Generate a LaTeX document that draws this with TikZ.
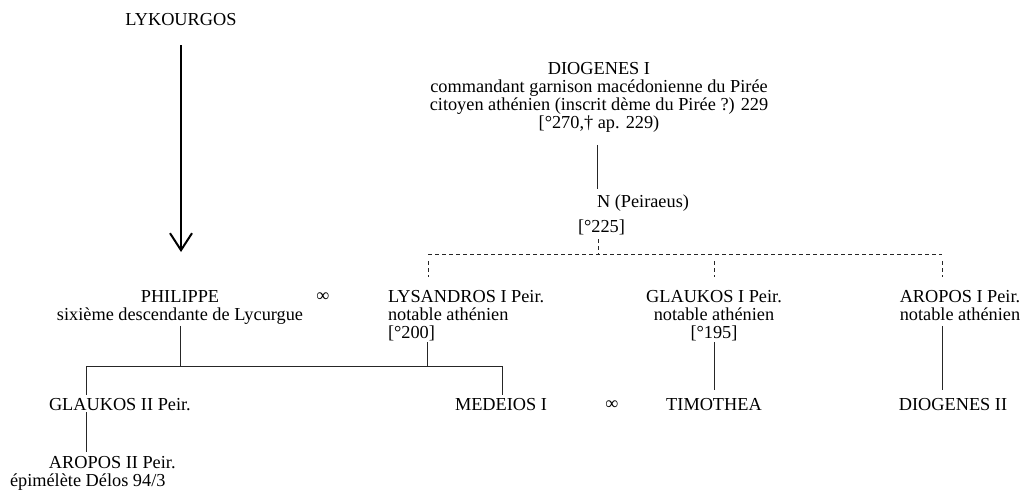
\documentclass[tikz,border=0pt]{standalone}
\usepackage{fontspec}
\setmainfont{Liberation Serif}
\usetikzlibrary{arrows.meta}
\begin{document}
\begin{tikzpicture}[x=1pt,y=-1pt,
  lbl/.style={inner sep=0pt, outer sep=0pt, font=\fontsize{18.3}{18}\selectfont},
  conn/.style={line width=0.9pt, draw=black!85},
  dconn/.style={line width=0.9pt, draw=black!85, dash pattern=on 4pt off 3pt},
  bigarrow/.style={line width=2pt, -{Straight Barb[length=17pt,width=22pt,line width=2pt]}}]
\useasboundingbox (0,0) rectangle (1023,498);
% nodes (for multi-line nodes, base = baseline of the last line)
\node[lbl, anchor=base] (lyk) at (181,25) {LYKOURGOS};
\node[lbl, anchor=base, align=center] (diog) at (599,128)
  {DIOGENES I\\commandant garnison macédonienne du Pirée\\citoyen athénien (inscrit dème du Pirée ?) 229\\{[}°270,† ap. 229)};
\node[lbl, anchor=base west, align=left] (np) at (578,232)
  {\hspace*{19pt}N (Peiraeus)\\[7pt]{[}°225]};
\node[lbl, anchor=base, align=center] (phil) at (180,320)
  {PHILIPPE\\sixième descendante de Lycurgue};
\node[lbl, anchor=base] (inf1) at (323,301) {∞};
\node[lbl, anchor=base west, align=left] (lys) at (388,338)
  {LYSANDROS I Peir.\\notable athénien\\{[}°200]};
\node[lbl, anchor=base, align=center] (gl1) at (714,338)
  {GLAUKOS I Peir.\\notable athénien\\{[}°195]};
\node[lbl, anchor=base, align=center] (ar1) at (960,320)
  {AROPOS I Peir.\\notable athénien};
\node[lbl, anchor=base west] (gl2) at (49,410) {GLAUKOS II Peir.};
\node[lbl, anchor=base west] (med) at (455,410) {MEDEIOS I};
\node[lbl, anchor=base] (inf2) at (612,409) {∞};
\node[lbl, anchor=base] (tim) at (714,410) {TIMOTHEA};
\node[lbl, anchor=base] (dio2) at (953,410) {DIOGENES II};
\node[lbl, anchor=base west, align=left] (ar2) at (10,486)
  {\hspace*{39pt}AROPOS II Peir.\\épimélète Délos 94/3};
% coordinates of buses
\coordinate (busL) at (428,254);
\coordinate (busM) at (598,254);
\coordinate (busR) at (942,254);
\coordinate (kidL) at (86,366);
\coordinate (kidR) at (502,366);
% connectors
\draw[bigarrow, shorten <=20pt, shorten >=38pt] (lyk.south) -- (lyk.south |- phil.north);
\draw[conn, shorten <=13pt, shorten >=5pt] ([xshift=19pt]np.north west |- diog.south) -- ([xshift=19pt]np.north west);
\draw[dconn, shorten <=5pt] (busM |- np.south) -- (busM);
\draw[dconn] (busL) -- (busR);
\draw[dconn, shorten <=7pt, shorten >=13pt] (busL) -- (busL |- lys.north);
\draw[dconn, shorten <=7pt, shorten >=13pt] (busL -| gl1) -- (gl1.north);
\draw[dconn, shorten <=7pt, shorten >=13pt] (busR) -- (busR |- ar1.north);
\draw[conn, shorten <=2pt] (phil.south) -- (phil.south |- kidL);
\draw[conn, shorten <=2pt] ([xshift=39pt]lys.south west) -- ([xshift=39pt]lys.south west |- kidL);
\draw[conn] (kidL) -- (kidR);
\draw[conn, shorten >=3pt] (kidL) -- (kidL |- gl2.north);
\draw[conn, shorten >=3pt] (kidR) -- (kidR |- med.north);
\draw[conn, shorten <=2pt, shorten >=8pt] (gl1.south) -- (gl1.south |- tim.north);
\draw[conn, shorten <=6pt, shorten >=8pt] (busR |- ar1.south) -- (busR |- dio2.north);
\draw[conn, shorten <=2pt, shorten >=4pt] (kidL |- gl2.south) -- (kidL |- ar2.north);
\end{tikzpicture}
\end{document}
